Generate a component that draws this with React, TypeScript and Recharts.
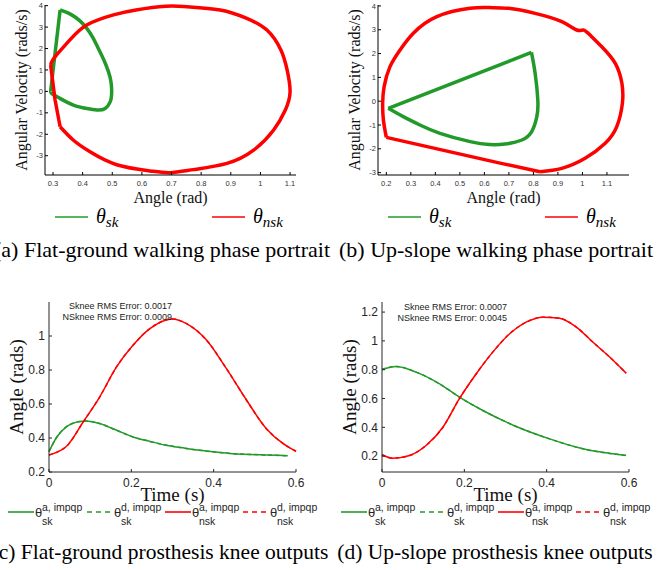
import React from "react";
import { LineChart, Line, XAxis, YAxis } from "recharts";

// (a) flat-ground phase portrait: angle (rad) vs angular velocity (rads/s)
const flatSkAngle = [0.292, 0.324, 0.34, 0.363, 0.39, 0.414, 0.435, 0.453, 0.472, 0.487, 0.495, 0.498, 0.497, 0.493, 0.476, 0.448, 0.414, 0.369, 0.324, 0.296, 0.292];
const flatSkVel = [0, 3.8, 3.72, 3.57, 3.3, 2.94, 2.5, 2.0, 1.45, 0.92, 0.5, 0.06, -0.25, -0.49, -0.8, -0.87, -0.8, -0.64, -0.33, -0.1, 0];
const flatNskAngle = [0.292, 0.307, 0.324, 0.369, 0.425, 0.515, 0.628, 0.695, 0.774, 0.887, 0.977, 1.044, 1.084, 1.1, 1.09, 1.069, 1.022, 0.954, 0.864, 0.752, 0.68, 0.58, 0.504, 0.414, 0.357, 0.312, 0.296, 0.292];
const flatNskVel = [1.23, -0.4, -1.65, -2.28, -2.82, -3.42, -3.71, -3.79, -3.65, -3.36, -2.74, -1.81, -0.87, -0.02, 1.0, 1.93, 2.86, 3.41, 3.8, 3.95, 3.97, 3.8, 3.57, 3.1, 2.4, 1.7, 1.38, 1.23];

// (b) up-slope phase portrait
const slopeSkAngle = [0.208, 0.792, 0.807, 0.818, 0.814, 0.793, 0.753, 0.684, 0.62, 0.542, 0.419, 0.337, 0.269, 0.208];
const slopeSkVel = [-0.3, 2.05, 1.17, 0.05, -0.65, -1.28, -1.63, -1.8, -1.82, -1.7, -1.35, -1.0, -0.65, -0.3];
const slopeNskAngle = [0.2, 0.664, 0.827, 0.916, 1.011, 1.093, 1.14, 1.163, 1.161, 1.134, 1.079, 1.031, 1.004, 0.977, 0.916, 0.807, 0.698, 0.62, 0.541, 0.406, 0.31, 0.256, 0.215, 0.191, 0.185, 0.188, 0.2];
const slopeNskVel = [-1.52, -2.6, -2.96, -2.82, -2.4, -1.77, -1.07, -0.09, 0.75, 1.59, 2.29, 2.78, 2.99, 2.99, 3.34, 3.69, 3.9, 3.93, 3.9, 3.55, 2.85, 2.15, 1.45, 0.61, -0.09, -0.79, -1.52];

// (c) flat-ground knee outputs: time (s) vs angle (rads)
const flatSkTime = [0, 0.019, 0.042, 0.075, 0.09, 0.123, 0.16, 0.204, 0.245, 0.285, 0.33, 0.366, 0.41, 0.447, 0.49, 0.528, 0.58];
const flatSkKnee = [0.32, 0.406, 0.465, 0.497, 0.5, 0.485, 0.45, 0.406, 0.38, 0.357, 0.34, 0.328, 0.316, 0.308, 0.303, 0.3, 0.296];
const flatNskTime = [0, 0.021, 0.042, 0.083, 0.123, 0.164, 0.204, 0.245, 0.3, 0.334, 0.383, 0.431, 0.48, 0.528, 0.569, 0.6];
const flatNskKnee = [0.3, 0.318, 0.35, 0.494, 0.641, 0.818, 0.945, 1.043, 1.1, 1.073, 0.975, 0.808, 0.622, 0.455, 0.367, 0.322];

// (d) up-slope knee outputs
const slopeSkTime = [0, 0.034, 0.083, 0.139, 0.188, 0.245, 0.326, 0.407, 0.488, 0.593];
const slopeSkKnee = [0.802, 0.823, 0.783, 0.703, 0.61, 0.517, 0.406, 0.32, 0.251, 0.205];
const slopeNskTime = [0, 0.026, 0.067, 0.107, 0.148, 0.188, 0.229, 0.269, 0.31, 0.35, 0.391, 0.431, 0.472, 0.512, 0.553, 0.593];
const slopeNskKnee = [0.21, 0.186, 0.205, 0.274, 0.401, 0.599, 0.772, 0.922, 1.05, 1.13, 1.165, 1.158, 1.096, 0.992, 0.888, 0.776];

const flatAngleTicks = [0.3, 0.4, 0.5, 0.6, 0.7, 0.8, 0.9, 1, 1.1];
const slopeAngleTicks = [0.2, 0.3, 0.4, 0.5, 0.6, 0.7, 0.8, 0.9, 1, 1.1];
const velTicks = [-3, -2, -1, 0, 1, 2, 3, 4];
const timeTicks = [0, 0.2, 0.4, 0.6];
const flatKneeTicks = [0.2, 0.4, 0.6, 0.8, 1];
const slopeKneeTicks = [0.2, 0.4, 0.6, 0.8, 1, 1.2];

const GREEN = "#229a2a";
const RED = "#ff0000";
const SANS = "Liberation Sans, Arial, sans-serif";
const SERIF = "Liberation Serif, Times New Roman, serif";

const zip = (xs: number[], ys: number[]) => xs.map((x, i) => ({ x, y: ys[i] }));

// a loop = straight part (corner to corner) followed by a smooth part
const loop = (xs: number[], ys: number[], cornerIdx: number) => {
  const pts = zip(xs, ys);
  return [
    { data: pts.slice(0, cornerIdx + 1), type: "linear" },
    { data: pts.slice(cornerIdx), type: "natural" },
  ];
};

function PhasePanel({ left, xDomain, xTicks, yDomain, sk, nsk }: any) {
  const tick = { fill: "#333", fontSize: 7.5, fontFamily: SANS };
  const segs = [...sk.map((s: any) => ({ ...s, color: GREEN })), ...nsk.map((s: any) => ({ ...s, color: RED }))];
  return (
    <div style={{ position: "absolute", left, top: 0 }}>
      <LineChart width={333} height={212} margin={{ top: 5, right: 37, bottom: 7, left: 0 }}>
        <XAxis xAxisId="b" type="number" dataKey="x" domain={xDomain} ticks={xTicks} height={30}
          stroke="#000" tickSize={-3} tickMargin={9} tick={tick}
          label={{ value: "Angle (rad)", position: "insideBottom", offset: 2, fontSize: 16, fontFamily: SERIF, fill: "#111" }} />
        <XAxis xAxisId="t" orientation="top" type="number" dataKey="x" domain={xDomain} ticks={xTicks}
          height={0} mirror tick={false} tickSize={3} stroke="#000" />
        <YAxis yAxisId="l" type="number" domain={yDomain} ticks={velTicks} width={45}
          stroke="#000" tickSize={-3} tickMargin={5} tick={tick}
          label={{ value: "Angular Velocity (rads/s)", angle: -90, position: "insideLeft", offset: 21, fontSize: 16, fontFamily: SERIF, fill: "#111", style: { textAnchor: "middle" } }} />
        <YAxis yAxisId="r" orientation="right" type="number" domain={yDomain} ticks={velTicks}
          width={0} mirror tick={false} tickSize={3} stroke="#000" />
        {segs.map((s: any, i: number) => (
          <Line key={i} xAxisId="b" yAxisId="l" data={s.data} dataKey="y" type={s.type} stroke={s.color}
            strokeWidth={3.5} strokeLinejoin="round" dot={false} isAnimationActive={false} />
        ))}
      </LineChart>
    </div>
  );
}

function KneePanel({ left, yDomain, yTicks, sk, nsk }: any) {
  const tick = { fill: "#262626", fontSize: 12, fontFamily: SANS };
  return (
    <div style={{ position: "absolute", left, top: 290 }}>
      <LineChart width={333} height={224} margin={{ top: 12, right: 37, bottom: 12, left: 0 }}>
        <XAxis type="number" dataKey="x" domain={[0, 0.6]} ticks={timeTicks} height={30}
          stroke="#262626" tickSize={-3} tickMargin={9} tick={tick}
          label={{ value: "Time (s)", position: "insideBottom", offset: 1, fontSize: 19, fontFamily: SERIF, fill: "#111" }} />
        <YAxis type="number" domain={yDomain} ticks={yTicks} width={49}
          stroke="#262626" tickSize={-3} tickMargin={7} tick={tick}
          label={{ value: "Angle (rads)", angle: -90, position: "insideLeft", offset: 16, fontSize: 19, fontFamily: SERIF, fill: "#111", style: { textAnchor: "middle" } }} />
        <Line data={sk} dataKey="y" type="monotone" stroke={GREEN} strokeWidth={1.5} dot={false} isAnimationActive={false} />
        <Line data={sk} dataKey="y" type="monotone" stroke={GREEN} strokeWidth={1.5} strokeDasharray="4 3" dot={false} isAnimationActive={false} />
        <Line data={nsk} dataKey="y" type="monotone" stroke={RED} strokeWidth={1.5} dot={false} isAnimationActive={false} />
        <Line data={nsk} dataKey="y" type="monotone" stroke={RED} strokeWidth={1.5} strokeDasharray="4 3" dot={false} isAnimationActive={false} />
      </LineChart>
    </div>
  );
}

function Swatch({ x, y, color, dashed }: any) {
  return (
    <svg style={{ position: "absolute", left: x, top: y - 2 }} width={26} height={4}>
      <line x1={0} y1={2} x2={26} y2={2} stroke={color} strokeWidth={1.6} strokeDasharray={dashed ? "5 4" : undefined} />
    </svg>
  );
}

function PhaseLegend({ left }: any) {
  const items = [
    { dx: 0, color: GREEN, sub: "sk" },
    { dx: 157, color: RED, sub: "nsk" },
  ];
  return (
    <>
      {items.map((it) => (
        <React.Fragment key={it.sub}>
          <svg style={{ position: "absolute", left: left + it.dx, top: 215 }} width={33} height={4}>
            <line x1={0} y1={2} x2={33} y2={2} stroke={it.color} strokeWidth={1.6} />
          </svg>
          <span style={{ position: "absolute", left: left + it.dx + 41, top: 206, fontSize: 20, lineHeight: "20px", fontStyle: "italic", fontFamily: SERIF, whiteSpace: "nowrap" }}>
            θ<span style={{ fontSize: 15, position: "relative", top: 4 }}>{it.sub}</span>
          </span>
        </React.Fragment>
      ))}
    </>
  );
}

function KneeLegend({ left }: any) {
  const items = [
    { dx: 0, color: GREEN, dashed: false, sup: "a, impqp", sub: "sk" },
    { dx: 79, color: GREEN, dashed: true, sup: "d, impqp", sub: "sk" },
    { dx: 157, color: RED, dashed: false, sup: "a, impqp", sub: "nsk" },
    { dx: 235, color: RED, dashed: true, sup: "d, impqp", sub: "nsk" },
  ];
  const txt = { position: "absolute" as const, fontFamily: SANS, color: "#262626", whiteSpace: "nowrap" as const };
  return (
    <>
      {items.map((it, i) => (
        <React.Fragment key={i}>
          <Swatch x={left + it.dx} y={512} color={it.color} dashed={it.dashed} />
          <span style={{ ...txt, left: left + it.dx + 27, top: 506, fontSize: 13, lineHeight: "13px" }}>θ</span>
          <span style={{ ...txt, left: left + it.dx + 34, top: 502, fontSize: 10.5, lineHeight: "10.5px" }}>{it.sup}</span>
          <span style={{ ...txt, left: left + it.dx + 34, top: 516, fontSize: 10.5, lineHeight: "10.5px" }}>{it.sub}</span>
        </React.Fragment>
      ))}
    </>
  );
}

function RmsNote({ right, top, lines }: any) {
  return (
    <div style={{ position: "absolute", left: right - 200, width: 200, top, textAlign: "right", fontFamily: SANS, fontSize: 9, lineHeight: "10.5px", color: "#222" }}>
      {lines.map((l: string) => (
        <div key={l}>{l}</div>
      ))}
    </div>
  );
}

function Caption({ cx, top, text, size }: any) {
  return (
    <div style={{ position: "absolute", left: cx - 200, width: 400, top, textAlign: "center", fontFamily: SERIF, fontSize: size, lineHeight: `${size}px`, whiteSpace: "nowrap", color: "#000" }}>
      {text}
    </div>
  );
}

export default function App() {
  return (
    <div style={{ position: "absolute", left: 0, top: 0, width: 666, height: 570, background: "#fff", overflow: "hidden" }}>
      <PhasePanel left={0} xDomain={[0.273, 1.12]} xTicks={flatAngleTicks} yDomain={[-3.9, 4.03]}
        sk={loop(flatSkAngle, flatSkVel, 1)} nsk={loop(flatNskAngle, flatNskVel, 2)} />
      <PhasePanel left={333} xDomain={[0.166, 1.19]} xTicks={slopeAngleTicks} yDomain={[-3.1, 4.04]}
        sk={loop(slopeSkAngle, slopeSkVel, 1)} nsk={loop(slopeNskAngle, slopeNskVel, 2)} />
      <PhaseLegend left={55} />
      <PhaseLegend left={388} />
      <Caption cx={162} top={239} size={22} text="(a) Flat-ground walking phase portrait" />
      <Caption cx={496} top={239} size={22} text="(b) Up-slope walking phase portrait" />

      <KneePanel left={0} yDomain={[0.2, 1.2]} yTicks={flatKneeTicks}
        sk={zip(flatSkTime, flatSkKnee)} nsk={zip(flatNskTime, flatNskKnee)} />
      <KneePanel left={333} yDomain={[0.09, 1.27]} yTicks={slopeKneeTicks}
        sk={zip(slopeSkTime, slopeSkKnee)} nsk={zip(slopeNskTime, slopeNskKnee)} />
      <RmsNote right={172} top={301} lines={["Sknee RMS Error: 0.0017", "NSknee RMS Error: 0.0009"]} />
      <RmsNote right={507} top={302} lines={["Sknee RMS Error: 0.0007", "NSknee RMS Error: 0.0045"]} />
      <KneeLegend left={8} />
      <KneeLegend left={341} />
      <Caption cx={160} top={542} size={21.5} text="(c) Flat-ground prosthesis knee outputs" />
      <Caption cx={495} top={542} size={21.5} text="(d) Up-slope prosthesis knee outputs" />
    </div>
  );
}
